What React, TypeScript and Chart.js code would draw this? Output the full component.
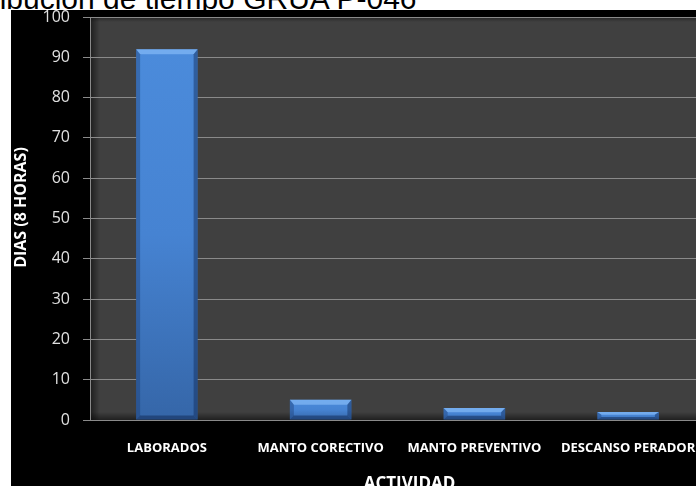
import { useEffect, useRef } from "react";
import { Chart, registerables } from "chart.js";

Chart.register(...registerables);

// Activities and days spent (8-hour days)
const categories = ["LABORADOS", "MANTO CORECTIVO", "MANTO PREVENTIVO", "DESCANSO PERADOR"];
const dias = [92, 5, 3, 2];
const yMin = 0;
const yMax = 100;
const yStep = 10;
const chartTitle = "Distribución de tiempo GRUA P-046";
const yTitle = "DIAS (8 HORAS)";
const xTitle = "ACTIVIDAD";

const FONT = '"Open Sans", "Noto Sans", sans-serif';

// Black canvas, dark plot panel with a soft inner shadow
const plotBackdrop = {
  id: "plotBackdrop",
  beforeDraw(chart: any) {
    const { ctx, chartArea: a, width, height } = chart;
    ctx.save();
    ctx.fillStyle = "#000";
    ctx.fillRect(0, 0, width, height);
    ctx.fillStyle = "#404040";
    ctx.fillRect(a.left, a.top, a.right - a.left, a.bottom - a.top);
    const gl = ctx.createLinearGradient(a.left, 0, a.left + 10, 0);
    gl.addColorStop(0, "rgba(0,0,0,0.55)");
    gl.addColorStop(1, "rgba(0,0,0,0)");
    ctx.fillStyle = gl;
    ctx.fillRect(a.left, a.top, 10, a.bottom - a.top);
    const gb = ctx.createLinearGradient(0, a.bottom, 0, a.bottom - 8);
    gb.addColorStop(0, "rgba(0,0,0,0.5)");
    gb.addColorStop(1, "rgba(0,0,0,0)");
    ctx.fillStyle = gb;
    ctx.fillRect(a.left, a.bottom - 8, a.right - a.left, 8);
    const gt = ctx.createLinearGradient(0, a.top, 0, a.top + 5);
    gt.addColorStop(0, "rgba(0,0,0,0.4)");
    gt.addColorStop(1, "rgba(0,0,0,0)");
    ctx.fillStyle = gt;
    ctx.fillRect(a.left, a.top, a.right - a.left, 5);
    ctx.restore();
  },
};

// Bevelled edges on each bar (top, sides and bottom facets)
const barBevel = {
  id: "barBevel",
  afterDatasetsDraw(chart: any) {
    const { ctx } = chart;
    const meta = chart.getDatasetMeta(0);
    const facet = (pts: number[][], color: string) => {
      ctx.fillStyle = color;
      ctx.beginPath();
      ctx.moveTo(pts[0][0], pts[0][1]);
      for (let i = 1; i < pts.length; i++) ctx.lineTo(pts[i][0], pts[i][1]);
      ctx.closePath();
      ctx.fill();
    };
    ctx.save();
    meta.data.forEach((bar: any) => {
      const { x, y, base, width } = bar.getProps(["x", "y", "base", "width"], true);
      const l = x - width / 2;
      const r = x + width / 2;
      const t = Math.min(y, base);
      const b = Math.max(y, base);
      const h = b - t;
      const tv = Math.min(5, h / 2.6);
      const bv = Math.min(4, h / 3);
      const sw = 4;
      facet([[l, t], [r, t], [r - sw, t + tv], [l + sw, t + tv]], "rgba(150,200,255,0.55)");
      facet([[l, t], [l + sw, t + tv], [l + sw, b - bv], [l, b]], "rgba(20,50,100,0.35)");
      facet([[r, t], [r - sw, t + tv], [r - sw, b - bv], [r, b]], "rgba(15,40,85,0.45)");
      facet([[l, b], [l + sw, b - bv], [r - sw, b - bv], [r, b]], "rgba(10,30,70,0.45)");
    });
    ctx.restore();
  },
};

// Axis captions
const axisCaptions = {
  id: "axisCaptions",
  afterDraw(chart: any) {
    const { ctx, chartArea: a } = chart;
    ctx.save();
    ctx.fillStyle = "#ffffff";
    ctx.font = `bold 16px ${FONT}`;
    ctx.textAlign = "center";
    ctx.textBaseline = "middle";
    ctx.translate(10, (a.top + a.bottom) / 2 - 11);
    ctx.rotate(-Math.PI / 2);
    ctx.fillText(yTitle, 0, 0);
    ctx.restore();

    ctx.save();
    ctx.fillStyle = "#ffffff";
    ctx.font = `bold 17px ${FONT}`;
    ctx.textAlign = "center";
    ctx.textBaseline = "alphabetic";
    ctx.fillText(xTitle, (a.left + a.right) / 2 + 12, a.bottom + 69);
    ctx.restore();
  },
};

export default function App() {
  const ref = useRef<HTMLCanvasElement | null>(null);

  useEffect(() => {
    if (!ref.current) return;
    const chart = new Chart(ref.current, {
      type: "bar",
      data: {
        labels: categories,
        datasets: [
          {
            data: dias,
            backgroundColor: (c: any) => {
              const ch = c.chart;
              if (!ch.chartArea || c.parsed == null) return "#4785d3";
              const ys = ch.scales.y;
              const top = ys.getPixelForValue(c.parsed.y);
              const bottom = ys.getPixelForValue(0);
              if (!(bottom - top > 0)) return "#4785d3";
              const g = ch.ctx.createLinearGradient(0, top, 0, bottom);
              g.addColorStop(0, "#4b8bdb");
              g.addColorStop(0.5, "#4683d2");
              g.addColorStop(1, "#3566a8");
              return g;
            },
            borderWidth: 0,
            barPercentage: 0.4,
            categoryPercentage: 1,
          },
        ],
      },
      options: {
        responsive: false,
        animation: false,
        layout: { padding: { top: 0, right: 6, bottom: 0, left: 0 } },
        plugins: {
          legend: { display: false },
          tooltip: { enabled: false },
          title: { display: false },
        },
        scales: {
          x: {
            grid: { display: false },
            border: { display: true, color: "#8a8a8a", width: 1 },
            ticks: {
              color: "#ffffff",
              font: { family: FONT, size: 13, weight: "bold" },
              padding: 12,
              maxRotation: 0,
              autoSkip: false,
            },
            afterFit: (s: any) => {
              s.height = 70;
            },
          },
          y: {
            min: yMin,
            max: yMax,
            grid: { color: "#8a8a8a", lineWidth: 1, tickLength: 7, drawTicks: true },
            border: { display: true, color: "#8a8a8a", width: 1 },
            ticks: {
              stepSize: yStep,
              color: "#e0e0e0",
              font: { family: FONT, size: 16, lineHeight: 1 },
              padding: 13,
            },
            afterFit: (s: any) => {
              s.width = 79;
              s.paddingTop = 7;
              s.paddingBottom = 7;
            },
          },
        },
      },
      plugins: [plotBackdrop, barBevel, axisCaptions],
    });
    return () => chart.destroy();
  }, []);

  return (
    <div
      style={{
        position: "fixed",
        left: 0,
        top: 0,
        width: 696,
        height: 486,
        overflow: "hidden",
        background: "#ffffff",
      }}
    >
      <div
        style={{
          position: "absolute",
          left: -62,
          top: -16,
          font: '30px "Liberation Sans", Arial, sans-serif',
          lineHeight: "30px",
          whiteSpace: "nowrap",
          color: "#000",
        }}
      >
        {chartTitle}
      </div>
      <canvas
        ref={ref}
        width={700}
        height={480}
        style={{ position: "absolute", left: 11, top: 10, width: 700, height: 480 }}
      />
    </div>
  );
}
